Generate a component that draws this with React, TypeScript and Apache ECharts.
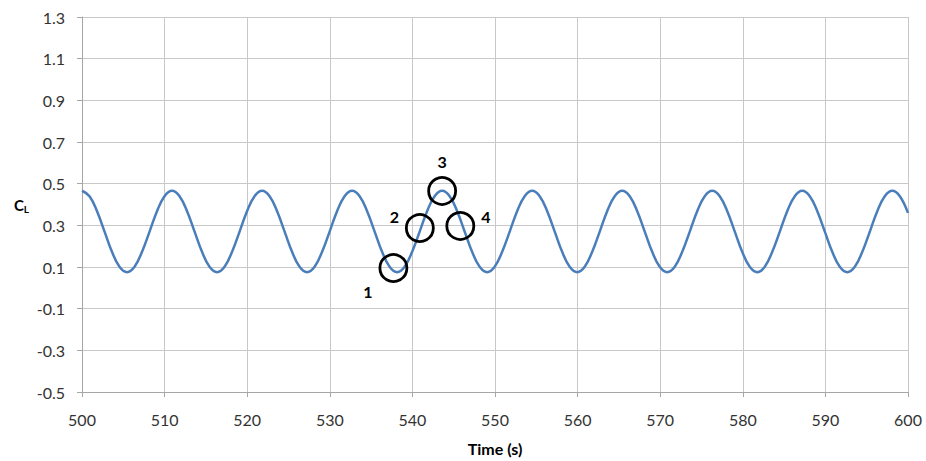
import React, { useEffect, useRef } from "react";
import * as echarts from "echarts";

const times: number[] = [
  500.0, 500.91, 501.82, 502.73, 503.63, 504.54, 505.45, 506.36, 507.27, 508.18, 509.08, 509.99,
  510.9, 511.81, 512.72, 513.63, 514.53, 515.44, 516.35, 517.26, 518.17, 519.08, 519.98, 520.89,
  521.8, 522.71, 523.62, 524.53, 525.43, 526.34, 527.25, 528.16, 529.07, 529.98, 530.88, 531.79,
  532.7, 533.61, 534.52, 535.43, 536.33, 537.24, 538.15, 539.06, 539.97, 540.88, 541.78, 542.69,
  543.6, 544.51, 545.42, 546.33, 547.23, 548.14, 549.05, 549.96, 550.87, 551.78, 552.68, 553.59,
  554.5, 555.41, 556.32, 557.23, 558.13, 559.04, 559.95, 560.86, 561.77, 562.68, 563.58, 564.49,
  565.4, 566.31, 567.22, 568.13, 569.03, 569.94, 570.85, 571.76, 572.67, 573.58, 574.48, 575.39,
  576.3, 577.21, 578.12, 579.03, 579.93, 580.84, 581.75, 582.66, 583.57, 584.48, 585.38, 586.29,
  587.2, 588.11, 589.02, 589.93, 590.83, 591.74, 592.65, 593.56, 594.47, 595.38, 596.28, 597.19,
  598.1, 599.01, 600.0,
];

// Lift coefficient C_L at those times
const clValues: number[] = [
  0.466, 0.44, 0.368, 0.27, 0.173, 0.101, 0.075, 0.101, 0.173, 0.27, 0.368, 0.44,
  0.466, 0.44, 0.368, 0.27, 0.173, 0.101, 0.075, 0.101, 0.173, 0.27, 0.368, 0.44,
  0.466, 0.44, 0.368, 0.27, 0.173, 0.101, 0.075, 0.101, 0.173, 0.27, 0.368, 0.44,
  0.466, 0.44, 0.368, 0.27, 0.173, 0.101, 0.075, 0.101, 0.173, 0.27, 0.368, 0.44,
  0.466, 0.44, 0.368, 0.27, 0.173, 0.101, 0.075, 0.101, 0.173, 0.27, 0.368, 0.44,
  0.466, 0.44, 0.368, 0.27, 0.173, 0.101, 0.075, 0.101, 0.173, 0.27, 0.368, 0.44,
  0.466, 0.44, 0.368, 0.27, 0.173, 0.101, 0.075, 0.101, 0.173, 0.27, 0.368, 0.44,
  0.466, 0.44, 0.368, 0.27, 0.173, 0.101, 0.075, 0.101, 0.173, 0.27, 0.368, 0.44,
  0.466, 0.44, 0.368, 0.27, 0.173, 0.101, 0.075, 0.101, 0.173, 0.27, 0.368, 0.44,
  0.466, 0.44, 0.36,
];

// Marked instants (circles)
const markLabels: string[] = ["1", "2", "3", "4"];
const markTimes: number[] = [537.7, 540.9, 543.6, 545.8];
const markValues: number[] = [0.095, 0.287, 0.465, 0.297];

const labelFont = "Lato, 'Open Sans', sans-serif";

export default function App() {
  const ref = useRef<HTMLDivElement>(null);
  useEffect(() => {
    if (!ref.current) return;
    const chart = echarts.init(ref.current, undefined, { renderer: "svg" });
    const labelPos: any[] = [
      { position: "left", offset: [0, 23] },
      { position: "left", offset: [0, -12] },
      { position: "top", offset: [0, -1] },
      { position: "right", offset: [0, -9] },
    ];
    chart.setOption({
      animation: false,
      backgroundColor: "#ffffff",
      grid: { left: 82, right: 18, top: 17, bottom: 69, containLabel: false },
      xAxis: {
        type: "value",
        min: 500,
        max: 600,
        interval: 10,
        name: "Time (s)",
        nameLocation: "middle",
        nameGap: 48,
        nameTextStyle: { fontFamily: labelFont, fontWeight: "bold", fontSize: 16, color: "#000" },
        axisLine: { show: true, onZero: false, lineStyle: { color: "#a6a6a6", width: 1 } },
        axisTick: { show: true, length: 5, lineStyle: { color: "#a6a6a6" } },
        axisLabel: { fontFamily: labelFont, fontSize: 16, color: "#333", margin: 19 },
        splitLine: { show: true, lineStyle: { color: "#c8c8c8", width: 1 } },
      },
      yAxis: {
        type: "value",
        min: -0.5,
        max: 1.3,
        interval: 0.2,
        name: "{c|C}{s|L}",
        nameLocation: "middle",
        nameRotate: 0,
        nameGap: 53,
        nameTextStyle: {
          rich: {
            c: { fontFamily: labelFont, fontWeight: "bold", fontSize: 15, color: "#000" },
            s: { fontFamily: labelFont, fontWeight: "bold", fontSize: 10, color: "#000", padding: [8, 0, 0, 0] },
          },
        },
        axisLine: { show: true, onZero: false, lineStyle: { color: "#a6a6a6", width: 1 } },
        axisTick: { show: true, length: 5, lineStyle: { color: "#a6a6a6" } },
        axisLabel: {
          fontFamily: labelFont,
          fontSize: 16,
          color: "#333",
          margin: 17,
          formatter: (v: number) => (Math.round(v * 10) / 10).toFixed(1),
        },
        splitLine: { show: true, lineStyle: { color: "#c8c8c8", width: 1 } },
      },
      series: [
        {
          type: "line",
          data: times.map((t, i) => [t, clValues[i]]),
          smooth: 0.4,
          showSymbol: false,
          lineStyle: { color: "#4a7ebb", width: 2.5 },
          z: 2,
        },
        {
          type: "scatter",
          data: markTimes.map((t, i) => ({
            value: [t, markValues[i]],
            label: {
              show: true,
              formatter: markLabels[i],
              position: labelPos[i].position,
              offset: labelPos[i].offset,
              distance: 6,
            },
          })),
          symbol: "circle",
          symbolSize: 27,
          itemStyle: { color: "rgba(0,0,0,0)", borderColor: "#000", borderWidth: 2.8, opacity: 1 },
          label: { fontFamily: labelFont, fontWeight: "bold", fontSize: 16, color: "#000" },
          emphasis: { disabled: true },
          z: 3,
        },
      ],
    });
    return () => chart.dispose();
  }, []);
  return <div ref={ref} style={{ width: 926, height: 461, position: "fixed", left: 0, top: 0 }} />;
}
